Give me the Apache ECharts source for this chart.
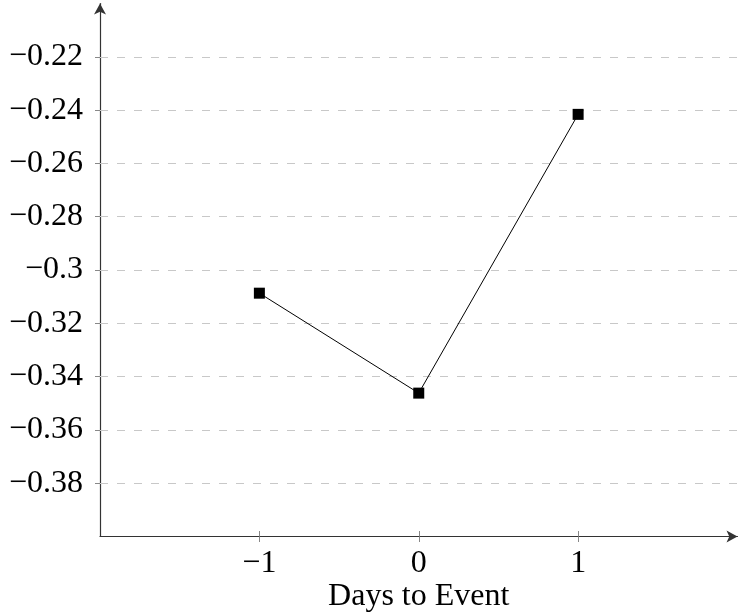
<!DOCTYPE html>
<html>
<head>
<meta charset="utf-8">
<script src="https://cdn.jsdelivr.net/npm/echarts@6/dist/echarts.min.js"></script>
<style>html,body{margin:0;padding:0;background:#fff}#c{width:739px;height:614px}</style>
</head>
<body>
<div id="c"></div>
<script>
const days = [-1, 0, 1];
const values = [-0.3087, -0.3462, -0.2416];
const xTicks = [-1, 0, 1];
const yTicks = [-0.38, -0.36, -0.34, -0.32, -0.30, -0.28, -0.26, -0.24, -0.22];
const xName = 'Days to Event';

const FONT = '"Liberation Serif", serif';
const fmt = v => {
  const r = Math.round(v * 1000) / 1000;
  return (r < 0 ? '\u2212' : '') + String(Math.abs(r));
};

const chart = echarts.init(document.getElementById('c'), null, {renderer: 'canvas'});
chart.setOption({
  animation: false,
  grid: {left: 100, right: 1.5, top: 3.5, bottom: 77.5, containLabel: false, outerBoundsMode: 'none'},
  xAxis: [{
    type: 'value', min: -2, max: 2, interval: 1,
    name: xName, nameLocation: 'middle', nameGap: 44, nameMoveOverlap: false,
    nameTextStyle: {fontFamily: FONT, fontSize: 32, color: '#000'},
    axisLine: {show: true, onZero: false, lineStyle: {color: '#333', width: 1.2}, symbol: ['none', 'arrow'], symbolSize: [9, 11]},
    axisTick: {show: true, customValues: xTicks, length: 5.5, lineStyle: {color: '#888', width: 1}},
    axisLabel: {customValues: xTicks, formatter: fmt, fontFamily: FONT, fontSize: 32, color: '#000', margin: 11},
    splitLine: {show: false}
  }, {
    type: 'value', min: -2, max: 2, interval: 1, position: 'bottom',
    axisLine: {show: false, onZero: false},
    axisTick: {show: true, inside: true, customValues: xTicks, length: 5.5, lineStyle: {color: '#888', width: 1}},
    axisLabel: {show: false},
    splitLine: {show: false}
  }],
  yAxis: {
    type: 'value', min: -0.4, max: -0.2, interval: 0.02,
    axisLine: {show: true, onZero: false, lineStyle: {color: '#333', width: 1.2}, symbol: ['none', 'arrow'], symbolSize: [9, 11]},
    axisTick: {show: true, customValues: yTicks, length: 5, lineStyle: {color: '#888', width: 1}},
    axisLabel: {customValues: yTicks, formatter: fmt, fontFamily: FONT, fontSize: 32, color: '#000', margin: 17},
    splitLine: {show: false}
  },
  series: [{
    type: 'line',
    xAxisIndex: 0,
    data: days.map((d, i) => [d, values[i]]),
    symbol: 'rect', symbolSize: 11,
    itemStyle: {color: '#000'},
    lineStyle: {color: '#000', width: 1},
    z: 5,
    markLine: {
      silent: true,
      symbol: ['none', 'none'],
      label: {show: false},
      lineStyle: {color: '#c8c8c8', width: 1, type: [8, 9]},
      z: 1,
      data: yTicks.map(v => ({yAxis: v}))
    }
  }]
});
</script>
</body>
</html>
